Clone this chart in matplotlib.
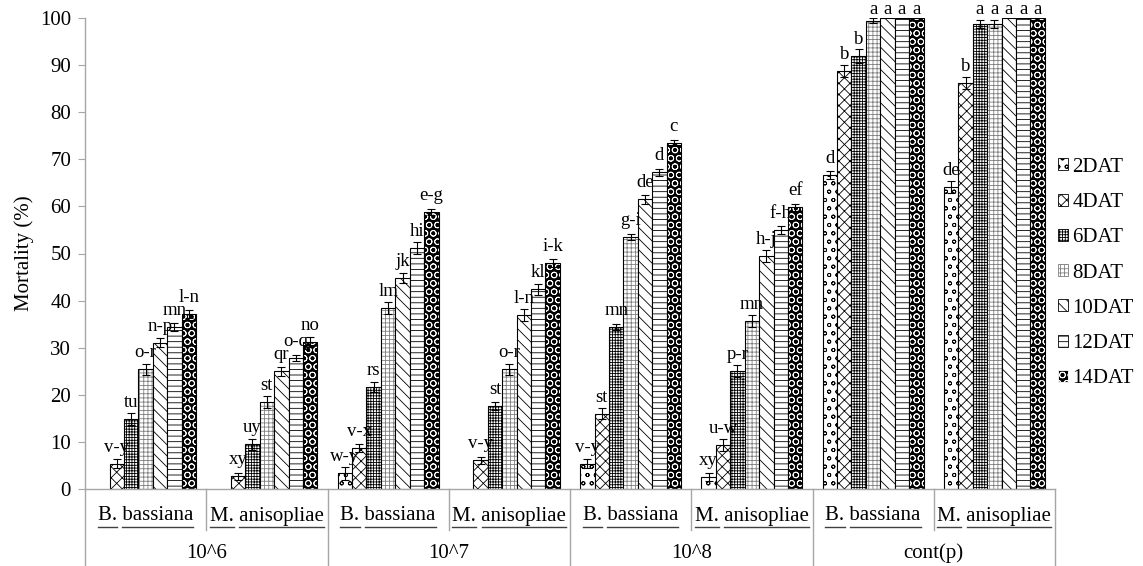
import matplotlib
matplotlib.use("Agg")
import matplotlib.pyplot as plt
import numpy as np
from matplotlib.patches import Patch
from matplotlib.lines import Line2D
from matplotlib.transforms import IdentityTransform, blended_transform_factory

plt.rcParams["font.family"] = ["Liberation Serif", "DejaVu Serif"]
plt.rcParams["hatch.linewidth"] = 0.6

concentrations = ["10^6", "10^7", "10^8", "cont(p)"]
fungi = [("B.", "bassiana"), ("M.", "anisopliae")]
series = ["2DAT", "4DAT", "6DAT", "8DAT", "10DAT", "12DAT", "14DAT"]

# mortality (%), one value per category: B, M for each concentration
dat2 = [0, 0, 3.3, 0, 5.4, 2.6, 66.7, 64.1]
dat4 = [5.4, 2.7, 8.7, 6.1, 16.0, 9.3, 88.8, 86.2]
dat6 = [14.9, 9.5, 21.7, 17.6, 34.4, 25.0, 91.9, 98.7]
dat8 = [25.4, 18.4, 38.4, 25.4, 53.5, 35.6, 99.4, 98.7]
dat10 = [31.1, 25.0, 44.8, 36.9, 61.5, 49.4, 100, 100]
dat12 = [34.4, 27.8, 51.2, 42.4, 67.2, 55.0, 100, 100]
dat14 = [37.1, 31.2, 58.8, 48.0, 73.5, 59.8, 100, 100]

err2 = [0, 0, 1.3, 0, 1.0, 0.8, 0.9, 1.2]
err4 = [0.9, 0.8, 0.8, 0.7, 1.2, 1.3, 1.3, 1.2]
err6 = [1.3, 1.2, 1.1, 0.9, 0.7, 1.3, 1.5, 0.8]
err8 = [1.1, 1.3, 1.3, 1.2, 0.6, 1.3, 0.5, 0.8]
err10 = [1.0, 1.0, 1.0, 1.3, 1.0, 1.3, 0, 0]
err12 = [0.8, 0.6, 1.3, 1.2, 0.7, 0.9, 0, 0]
err14 = [0.8, 1.0, 0.6, 0.9, 0.6, 0.8, 0, 0]

let2 = ["", "", "w-y", "", "v-y", "xy", "d", "de"]
let4 = ["v-y", "xy", "v-x", "v-y", "st", "u-w", "b", "b"]
let6 = ["tu", "uy", "rs", "st", "mn", "p-r", "b", "a"]
let8 = ["o-r", "st", "lm", "o-r", "g-i", "mn", "a", "a"]
let10 = ["n-p", "qr", "jk", "l-n", "de", "h-j", "a", "a"]
let12 = ["mn", "o-q", "hi", "kl", "d", "f-h", "a", "a"]
let14 = ["l-n", "no", "e-g", "i-k", "c", "ef", "a", "a"]

values = [dat2, dat4, dat6, dat8, dat10, dat12, dat14]
errors = [err2, err4, err6, err8, err10, err12, err14]
letters = [let2, let4, let6, let8, let10, let12, let14]

# (face, hatch colour, hatch) per series, imitating the Excel pattern fills
styles = [
    ("white", "black", "oo"),
    ("white", "black", "xxx"),
    ("white", "black", "++++++"),
    ("white", "#7f7f7f", "++++"),
    ("white", "black", "\\\\\\"),
    ("white", "black", "---"),
    ("black", "white", "OO"),
]

W, H = 1143, 566
fig = plt.figure(figsize=(W / 100, H / 100), dpi=100)
ax = fig.add_axes([85 / W, 77 / H, 970 / W, 471 / H])
px_per_unit = 471 / 100

ncat = 8
x = np.arange(ncat)
w = 1 / (len(series) + 1.4)

for j, (vals, errs, labs) in enumerate(zip(values, errors, letters)):
    vals = np.array(vals, dtype=float)
    errs = np.array(errs, dtype=float)
    pos = x + 0.7 * w + (j + 0.5) * w
    m = vals > 0
    face, hcol, hatch = styles[j]
    ax.bar(pos[m], vals[m], w, color=face, edgecolor=hcol, hatch=hatch, linewidth=0)
    ax.bar(pos[m], vals[m], w, fill=False, edgecolor="black", linewidth=0.8)
    e = m & (errs > 0)
    ax.errorbar(pos[e], vals[e], yerr=errs[e], fmt="none", ecolor="black",
                elinewidth=0.8, capsize=2.9, capthick=0.8)
    for p, v, lab in zip(pos, vals, labs):
        if not lab:
            continue
        off = min(12, 4 + (100 - v) * px_per_unit)
        ax.annotate(lab, (p, v), xytext=(0, off), textcoords="offset pixels",
                    ha="center", va="baseline", fontsize=13.5, annotation_clip=False)

ax.set_xlim(0, ncat)
ax.set_ylim(0, 100)
ax.set_yticks(range(0, 101, 10))
ax.set_xticks([])
for s in ["top", "right"]:
    ax.spines[s].set_visible(False)
for s in ["left", "bottom"]:
    ax.spines[s].set_color("#a6a6a6")
    ax.spines[s].set_linewidth(1.0)
ax.tick_params(axis="y", direction="out", length=5, color="#a6a6a6", labelsize=15, pad=5)
ax.set_ylabel("Mortality (%)", fontsize=15)
ax.yaxis.set_label_coords(-0.053, 0.5)

# two-level category axis
trans = blended_transform_factory(ax.transData, ax.transAxes)
for k in range(ncat + 1):
    depth = -80 / 471 if k % 2 == 0 else -41 / 471
    ax.plot([k, k], [0, depth], color="#a6a6a6", lw=1.0, transform=trans, clip_on=False)

cat_texts = []
for k in range(ncat):
    genus, species = fungi[k % 2]
    t = ax.annotate(f"{genus} {species}", (k + 0.5, 0), xycoords=trans,
                    xytext=(0, -27), textcoords="offset pixels",
                    ha="center", va="center", fontsize=15)
    cat_texts.append((t, genus, species))

for g, name in enumerate(concentrations):
    ax.annotate(name, (2 * g + 1, 0), xycoords=trans, xytext=(0, -64),
                textcoords="offset pixels", ha="center", va="center", fontsize=15)

fig.canvas.draw()
renderer = fig.canvas.get_renderer()
for t, genus, species in cat_texts:
    bb = t.get_window_extent(renderer)
    prop = t.get_fontproperties()
    wg = renderer.get_text_width_height_descent(genus, prop, ismath=False)[0]
    ws = renderer.get_text_width_height_descent(species, prop, ismath=False)[0]
    yl = bb.y0 - 1
    for xa, xb in [(bb.x0, bb.x0 + wg), (bb.x1 - ws, bb.x1)]:
        fig.add_artist(Line2D([xa, xb], [yl, yl], color="#404040", lw=1.0,
                              transform=IdentityTransform()))

handles = [Patch(facecolor=f, edgecolor=hc, hatch=h, linewidth=0.6) for f, hc, h in styles]
fig.legend(handles, series, loc="center left", bbox_to_anchor=(1058 / W, 1 - 273 / H),
           frameon=False, fontsize=15, handlelength=0.5, handleheight=0.5,
           handletextpad=0.2, labelspacing=0.78, borderaxespad=0, borderpad=0)

fig.savefig("out.png", dpi=100, facecolor="white")
